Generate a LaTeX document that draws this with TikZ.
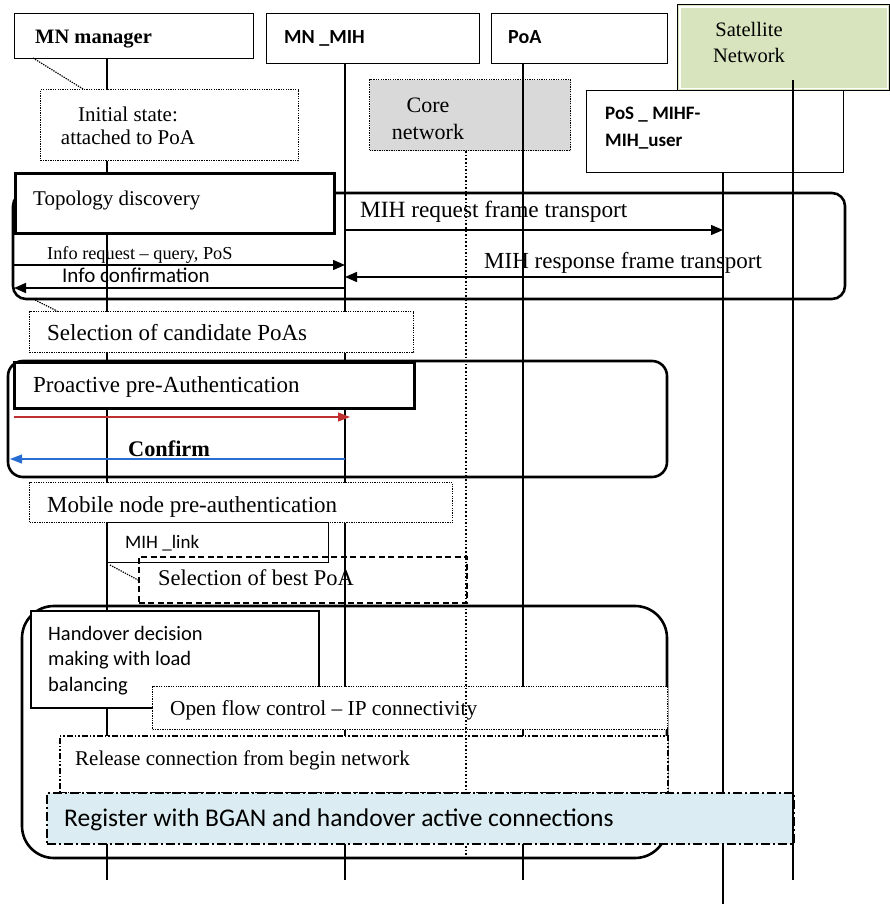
\documentclass[tikz,border=0pt]{standalone}
\usepackage{fontspec}
\setmainfont{Liberation Serif}
\newfontfamily\calib{Carlito}
\usetikzlibrary{arrows.meta}
\definecolor{satgreen}{RGB}{215,228,189}
\definecolor{coregray}{RGB}{217,217,217}
\definecolor{reglight}{RGB}{219,237,243}
\definecolor{msgred}{RGB}{192,48,48}
\definecolor{msgblue}{RGB}{40,110,210}

\begin{document}
\begin{tikzpicture}[x=1pt,y=-1pt,
  life/.style={line width=1.6pt},
  hdr/.style={draw, line width=1.4pt, fill=white, inner sep=0pt, anchor=north west},
  thickhdr/.style={hdr, line width=3pt},
  grpframe/.style={line width=2.6pt, rounded corners=#1},
  dotbox/.style={draw, line width=1.3pt, dash pattern=on 1.3pt off 1.1pt, fill=white, inner sep=0pt, anchor=north west},
  notelink/.style={line width=1.2pt, dash pattern=on 1.3pt off 1.1pt},
  serif/.style={font=\fontsize{21}{25}\selectfont, inner sep=0pt, anchor=base west},
  sans/.style={font=\calib\fontsize{20.5}{25.5}\selectfont, inner sep=0pt, anchor=base west, align=left},
  sansb/.style={font=\calib\bfseries\fontsize{19}{27}\selectfont, inner sep=0pt, anchor=base west, align=left},
  msg/.style={line width=1.5pt, -{Triangle[length=12pt,width=10pt]}},
  colmsg/.style={line width=1.2pt, draw=#1, -{Triangle[length=12pt,width=9pt,fill=#1]}},
]
\useasboundingbox (0,0) rectangle (890,904);

% lifeline ends
\coordinate (lMNM) at (107,880);
\coordinate (lMIH) at (345,880);
\coordinate (lCORE) at (466,858);
\coordinate (lPOA) at (523,880);
\coordinate (lPOS) at (723,904);
\coordinate (lSAT) at (793,880);
\coordinate (satTop) at (793,80);
% message rows
\coordinate (y230) at (0,230);
\coordinate (y265) at (0,265);
\coordinate (y277) at (0,277);
\coordinate (y288) at (0,288);
\coordinate (y417) at (0,417);
\coordinate (y459) at (0,459);
\coordinate (topoL) at (14,0);
\coordinate (proL) at (10,0);

% core network (drawn first, lifelines cross it)
\node[dotbox, fill=coregray, minimum width=201, minimum height=71] (core) at (369,79) {};
\node[serif, font=\fontsize{22}{27}\selectfont, align=center, anchor=base] (coret) at (428,140) {Core\\network};

% lifelines
\draw[life] (lMNM |- 0,58) -- (lMNM);
\draw[life] (lMIH |- 0,63) -- (lMIH);
\draw[life] (lPOA |- 0,63) -- (lPOA);
\draw[life] (lPOS |- 0,172) -- (lPOS);

% group frames
\draw[grpframe=13] (13,193) rectangle (845,299);
\draw[grpframe=15] (8,361) rectangle (667,477);
\draw[grpframe=32] (22,606) rectangle (667,858);

% participants
\node[hdr, minimum width=239, minimum height=45] (mnm) at (14,13) {};
\node[serif, font=\bfseries\fontsize{20.5}{24}\selectfont] (mnmt) at (35,44) {MN manager};
\node[hdr, minimum width=213, minimum height=50] (mih) at (266,13) {};
\node[sansb, font=\calib\bfseries\fontsize{20}{27}\selectfont] (miht) at (284,44) {MN \_MIH};
\node[hdr, minimum width=176, minimum height=50] (poa) at (491,13) {};
\node[sansb, font=\calib\bfseries\fontsize{20}{27}\selectfont] (poat) at (508,44) {PoA};
\node[hdr, fill=satgreen, minimum width=212, minimum height=86] (sat) at (677,4) {};
\draw[white, line width=1.2pt] ([shift={(3,3)}]sat.north west) rectangle ([shift={(-3,-3)}]sat.south east);
\node[serif, font=\fontsize{20.5}{26}\selectfont, align=center, anchor=base] (satt) at (749,63) {Satellite\\Network};
\node[hdr, minimum width=257, minimum height=82] (pos) at (586,90) {};
\node[sansb] (post) at (605,147) {PoS \_ MIHF-\\MIH\_user};

% initial state note
\node[dotbox, minimum width=258, minimum height=71] (init) at (40,89) {};
\node[serif, font=\fontsize{21}{23.5}\selectfont, align=center, anchor=base] (initt) at (128,145) {Initial state:\\attached to PoA};
\coordinate (n1a) at (33,58);
\coordinate (n1b) at (83,89);
\draw[notelink] (n1a) -- (n1b);

% topology discovery
\node[thickhdr, minimum width=319, minimum height=60] (topo) at (14,172) {};
\node[serif] (topot) at (33,205) {Topology discovery};
\node[serif, font=\fontsize{23.3}{27}\selectfont] (reqt) at (360,217) {MIH request frame transport};
\node[serif, font=\fontsize{23}{27}\selectfont] (respt) at (484,268) {MIH response frame transport};
\node[serif, font=\fontsize{18.3}{22}\selectfont] (infot) at (47,259) {Info request -- query, PoS};
\node[sans, font=\calib\fontsize{21}{25}\selectfont] (conft) at (62,282) {Info confirmation};
\draw[msg] (lMIH |- y230) -- (lPOS |- y230);
\draw[msg] (lPOS |- y277) -- (lMIH |- y277);
\draw[msg] (topoL |- y265) -- (lMIH |- y265);
\draw[msg] (lMIH |- y288) -- (topoL |- y288);

% candidate selection
\coordinate (n2a) at (33,299);
\coordinate (n2b) at (57,311);
\draw[notelink] (n2a) -- (n2b);
\node[dotbox, minimum width=384, minimum height=41] (cand) at (29,311) {};
\node[serif, font=\fontsize{23}{26}\selectfont] (candt) at (47,340) {Selection of candidate PoAs};

% proactive pre-authentication
\node[thickhdr, minimum width=400, minimum height=46] (pro) at (13,361) {};
\node[serif, font=\fontsize{23}{26}\selectfont] (prot) at (33,392) {Proactive pre-Authentication};
\draw[colmsg=msgred] (topoL |- y417) -- ([xshift=5]lMIH |- y417);
\draw[colmsg=msgblue] (lMIH |- y459) -- (proL |- y459);
\node[serif, font=\bfseries\fontsize{22.3}{26}\selectfont] (confirmt) at (128,456) {Confirm};

% mobile node pre-authentication
\node[dotbox, minimum width=423, minimum height=40] (mob) at (29,482) {};
\node[serif, font=\fontsize{23}{26}\selectfont] (mobt) at (47,512) {Mobile node pre-authentication};

% MIH link and best PoA selection
\node[hdr, line width=1.3pt, minimum width=221, minimum height=40] (link) at (107,522) {};
\node[sans, font=\calib\fontsize{19}{23}\selectfont] (linkt) at (125,548) {MIH \_link};
\node[hdr, fill=none, dash pattern=on 6pt off 3.5pt, line width=1.5pt, minimum width=328, minimum height=46] (best) at (138,556) {};
\node[serif, font=\fontsize{22.5}{26}\selectfont] (bestt) at (158,585) {Selection of best PoA};
\coordinate (n3a) at (110,565);
\coordinate (n3b) at (138,580);
\draw[notelink] (n3a) -- (n3b);

% handover
\node[hdr, line width=2pt, minimum width=288, minimum height=97] (hand) at (30,610) {};
\node[sans] (handt) at (48,691) {Handover decision\\making with load\\balancing};
\node[dotbox, minimum width=515, minimum height=43] (flow) at (152,686) {};
\node[serif, font=\fontsize{21.3}{25}\selectfont] (flowt) at (170,715) {Open flow control -- IP connectivity};
\node[dotbox, dash pattern=on 6pt off 2pt on 1.5pt off 2pt on 1.5pt off 2pt, line width=1.5pt, minimum width=608, minimum height=57] (rel) at (59,735) {};
\node[serif, font=\fontsize{21}{24}\selectfont] (relt) at (75,765) {Release connection from begin network};

% core network lifeline (dotted)
\draw[line width=1.8pt, dash pattern=on 1.6pt off 2pt] (core.south -| lCORE) -- (lCORE);

% registration
\node[dotbox, fill=reglight, dash pattern=on 9pt off 3pt on 2pt off 3pt, line width=1.6pt, minimum width=747, minimum height=51] (reg) at (46,792) {};
\node[sans, font=\calib\fontsize{25.5}{29}\selectfont] (regt) at (64,826) {Register with BGAN and handover active connections};

% satellite lifeline
\draw[life] (satTop) -- (lSAT);
\end{tikzpicture}
\end{document}
